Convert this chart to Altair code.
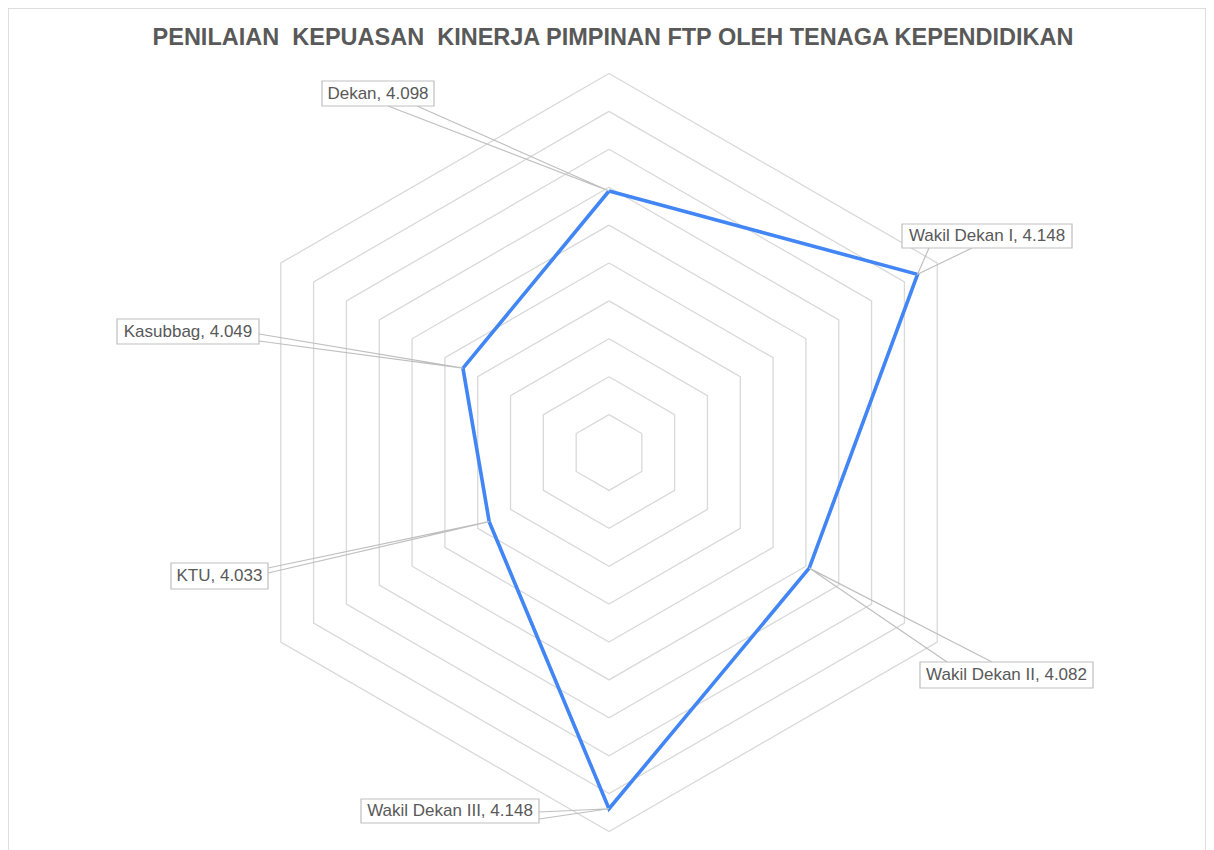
import altair as alt
import pandas as pd
import numpy as np

# ---------------- data ----------------
categories = ["Dekan", "Wakil Dekan I", "Wakil Dekan II", "Wakil Dekan III", "KTU", "Kasubbag"]
scores = [4.098, 4.148, 4.082, 4.148, 4.033, 4.049]
score_text = ["4.098", "4.148", "4.082", "4.148", "4.033", "4.049"]
axis_min = 3.96
axis_max = 4.16
ring_count = 10
title_text = "PENILAIAN\u00a0 KEPUASAN\u00a0 KINERJA PIMPINAN FTP OLEH TENAGA KEPENDIDIKAN"

# ---------------- layout / style ----------------
W, H = 1198, 852          # plot area (px)
CX, CY = 601, 444.5       # radar centre in plot px
R = 379                   # outer ring radius in px
PAGE = 8                  # page margin

# callout boxes (page px: left, top, right, bottom) and leader base points
label_boxes = [
    (322, 81, 434, 106),
    (902, 224, 1072, 248),
    (920, 662, 1093, 688),
    (361, 799, 539, 823),
    (171, 563, 268, 589),
    (117, 319, 259, 344),
]
leader_bases = [
    ((388, 106), (417, 106)),
    ((929, 248), (972, 248)),
    ((947, 662), (992, 662)),
    ((539, 812), (539, 819)),
    ((268, 568), (268, 573)),
    ((259, 334), (259, 341)),
]

GRID = "#d9d9d9"
LINE = "#4285F4"
CALL = "#bfbfbf"
TXT = "#595959"
FONT = "Liberation Sans"


def ux(px):
    return (px - PAGE - CX) / R


def uy(py):
    return (CY - (py - PAGE)) / R


n = len(categories)
angles = [2 * np.pi * i / n for i in range(n)]

# grid rings
grid_rows = []
for k in range(1, ring_count + 1):
    r = k / ring_count
    for j in range(n + 1):
        a = angles[j % n]
        grid_rows.append({"ring": k, "idx": j, "x": r * np.sin(a), "y": r * np.cos(a)})
grid_df = pd.DataFrame(grid_rows)

# data polygon
poly_rows = []
pts = []
for j in range(n + 1):
    i = j % n
    r = (scores[i] - axis_min) / (axis_max - axis_min)
    x, y = r * np.sin(angles[i]), r * np.cos(angles[i])
    if j < n:
        pts.append((x, y))
    poly_rows.append({"idx": j, "x": x, "y": y, "cat": categories[i]})
poly_df = pd.DataFrame(poly_rows)

# leaders
lead_rows = []
for i in range(n):
    (b1, b2) = leader_bases[i]
    lead_rows.append({"lab": i, "o": 0, "x": ux(b1[0]), "y": uy(b1[1])})
    lead_rows.append({"lab": i, "o": 1, "x": pts[i][0], "y": pts[i][1]})
    lead_rows.append({"lab": i, "o": 2, "x": ux(b2[0]), "y": uy(b2[1])})
lead_df = pd.DataFrame(lead_rows)

# boxes + text
box_rows = []
for i in range(n):
    l, t, rr, b = label_boxes[i]
    box_rows.append({
        "x": ux(l), "x2": ux(rr), "y": uy(t), "y2": uy(b),
        "cx": ux((l + rr) / 2), "cy": uy((t + b) / 2),
        "text": f"{categories[i]}, {score_text[i]}",
    })
box_df = pd.DataFrame(box_rows)

title_df = pd.DataFrame({"t": [title_text]})

xs = alt.Scale(domain=[(0 - CX) / R, (W - CX) / R], nice=False, zero=False)
ys = alt.Scale(domain=[(CY - H) / R, CY / R], nice=False, zero=False)

grid = alt.Chart(grid_df).mark_line(color=GRID, strokeWidth=1.3).encode(
    x=alt.X("x:Q", scale=xs, axis=None),
    y=alt.Y("y:Q", scale=ys, axis=None),
    detail="ring:N",
    order="idx:Q",
)

poly = alt.Chart(poly_df).mark_line(color=LINE, strokeWidth=3.6, strokeJoin="miter").encode(
    x=alt.X("x:Q", scale=xs, axis=None),
    y=alt.Y("y:Q", scale=ys, axis=None),
    order="idx:Q",
)

leaders = alt.Chart(lead_df).mark_line(color=CALL, strokeWidth=1.2).encode(
    x=alt.X("x:Q", scale=xs, axis=None),
    y=alt.Y("y:Q", scale=ys, axis=None),
    detail="lab:N",
    order="o:Q",
)

boxes = alt.Chart(box_df).mark_rect(fill="white", stroke=CALL, strokeWidth=1.2).encode(
    x=alt.X("x:Q", scale=xs, axis=None),
    x2="x2:Q",
    y=alt.Y("y:Q", scale=ys, axis=None),
    y2="y2:Q",
)

texts = alt.Chart(box_df).mark_text(
    font=FONT, fontSize=17, color=TXT, align="center", baseline="middle"
).encode(
    x=alt.X("cx:Q", scale=xs, axis=None),
    y=alt.Y("cy:Q", scale=ys, axis=None),
    text="text:N",
)

title = alt.Chart(title_df).mark_text(
    font=FONT, fontSize=23.5, fontWeight="bold", color=TXT,
    align="center", baseline="middle",
).encode(
    x=alt.value(605),
    y=alt.value(30),
    text="t:N",
)

chart = alt.layer(grid, poly, leaders, boxes, texts, title).properties(
    width=W,
    height=H,
    autosize=alt.AutoSizeParams(type="none"),
    padding=0,
).configure_view(stroke="#d4d4d4", strokeWidth=1.5)

chart.save("out.html", embed_options={"renderer": "svg", "actions": False})
